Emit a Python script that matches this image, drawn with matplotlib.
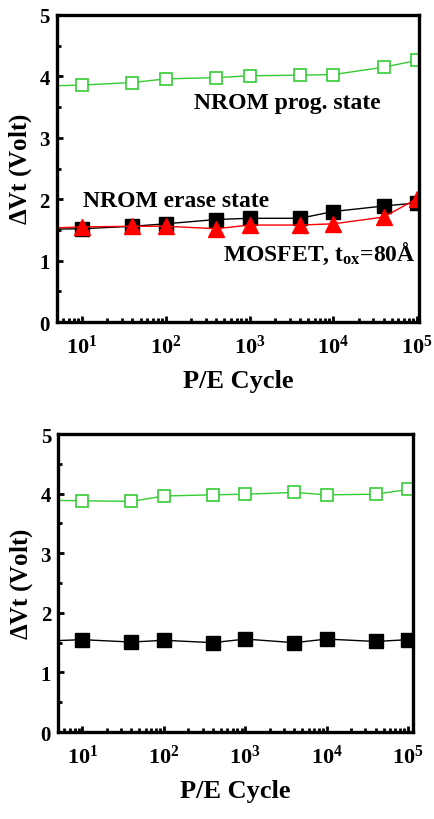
import numpy as np
import matplotlib
matplotlib.use("Agg")
import matplotlib.pyplot as plt
from matplotlib.ticker import LogLocator, FixedLocator, MultipleLocator, FuncFormatter

plt.rcParams['font.family'] = ['Liberation Serif', 'DejaVu Serif']
plt.rcParams['font.weight'] = 'bold'
plt.rcParams['mathtext.fontset'] = 'custom'
plt.rcParams['mathtext.rm'] = 'Liberation Serif:bold'
plt.rcParams['mathtext.bf'] = 'Liberation Serif:bold'
plt.rcParams['mathtext.it'] = 'Liberation Serif:bold'

# P/E cycles (first point at 1 sits outside the visible range)
cycles = [1, 10, 40, 100, 400, 1000, 4000, 10000, 40000, 100000]

# top panel
top_prog = [3.82, 3.86, 3.90, 3.96, 3.98, 4.01, 4.02, 4.03, 4.15, 4.26]
top_erase = [1.50, 1.52, 1.56, 1.60, 1.67, 1.69, 1.69, 1.80, 1.89, 1.94]
top_mosfet = [1.50, 1.55, 1.56, 1.56, 1.52, 1.58, 1.58, 1.60, 1.71, 2.01]

# bottom panel
bot_prog = [3.90, 3.88, 3.87, 3.96, 3.98, 3.99, 4.02, 3.98, 3.99, 4.07]
bot_erase = [1.50, 1.55, 1.51, 1.54, 1.50, 1.56, 1.50, 1.56, 1.52, 1.55]

green = '#33cc33'

fig = plt.figure(figsize=(4.34, 8.2), dpi=100)
ax1 = fig.add_axes([0.131, 0.606, 0.834, 0.3745])
ax2 = fig.add_axes([0.1336, 0.106, 0.818, 0.3635])


def style_axes(ax, xmax):
    ax.set_xscale('log')
    ax.set_xlim(5, xmax)
    ax.set_ylim(0, 5)
    for s in ax.spines.values():
        s.set_linewidth(2.4)
    ax.xaxis.set_major_locator(FixedLocator([10, 100, 1000, 10000, 100000]))
    ax.xaxis.set_minor_locator(LogLocator(base=10, subs=np.arange(2, 10), numticks=20))
    ax.xaxis.set_major_formatter(FuncFormatter(
        lambda v, p: r'$\mathbf{10^{%d}}$' % int(round(np.log10(v)))))
    ax.xaxis.set_minor_formatter(FuncFormatter(lambda v, p: ''))
    ax.yaxis.set_major_locator(MultipleLocator(1))
    ax.yaxis.set_minor_locator(MultipleLocator(0.5))
    ax.tick_params(which='both', direction='in', top=False, right=False, width=2)
    ax.tick_params(which='major', length=4, labelsize=15)
    ax.tick_params(which='minor', length=3)
    ax.tick_params(axis='x', which='major', pad=9, labelsize=16)
    ax.tick_params(axis='y', which='major', pad=5)
    for lab in ax.get_yticklabels():
        lab.set_fontweight('bold')
    ax.set_xlabel('P/E Cycle', fontsize=19, fontweight='bold', labelpad=8)
    ax.set_ylabel(r'$\Delta$Vt (Volt)', fontsize=18, fontweight='bold', labelpad=4)


# top panel
ax1.plot(cycles, top_prog, '-', color=green, lw=1, marker='s', ms=9,
         mfc='white', mec=green, mew=1.2)
ax1.plot(cycles, top_erase, '-', color='black', lw=1, marker='s', ms=9.5,
         mfc='black', mec='black')
ax1.plot(cycles, top_mosfet, '-', color='red', lw=1, marker='^', ms=12,
         mfc='red', mec='red')
style_axes(ax1, 1.05e5)
ax1.text(0.38, 0.715, 'NROM prog. state', transform=ax1.transAxes,
         fontsize=17, fontweight='bold', va='center', ha='left')
ax1.text(0.072, 0.395, 'NROM erase state', transform=ax1.transAxes,
         fontsize=17, fontweight='bold', va='center', ha='left')
ax1.text(0.46, 0.225, r'MOSFET, t$_{\mathbf{ox}}$=80Å', transform=ax1.transAxes,
         fontsize=17, fontweight='bold', va='center', ha='left')

# bottom panel
ax2.plot(cycles, bot_prog, '-', color=green, lw=1, marker='s', ms=9,
         mfc='white', mec=green, mew=1.2)
ax2.plot(cycles, bot_erase, '-', color='black', lw=1, marker='s', ms=9.5,
         mfc='black', mec='black')
style_axes(ax2, 1.15e5)

fig.savefig('out.png', dpi=100)
